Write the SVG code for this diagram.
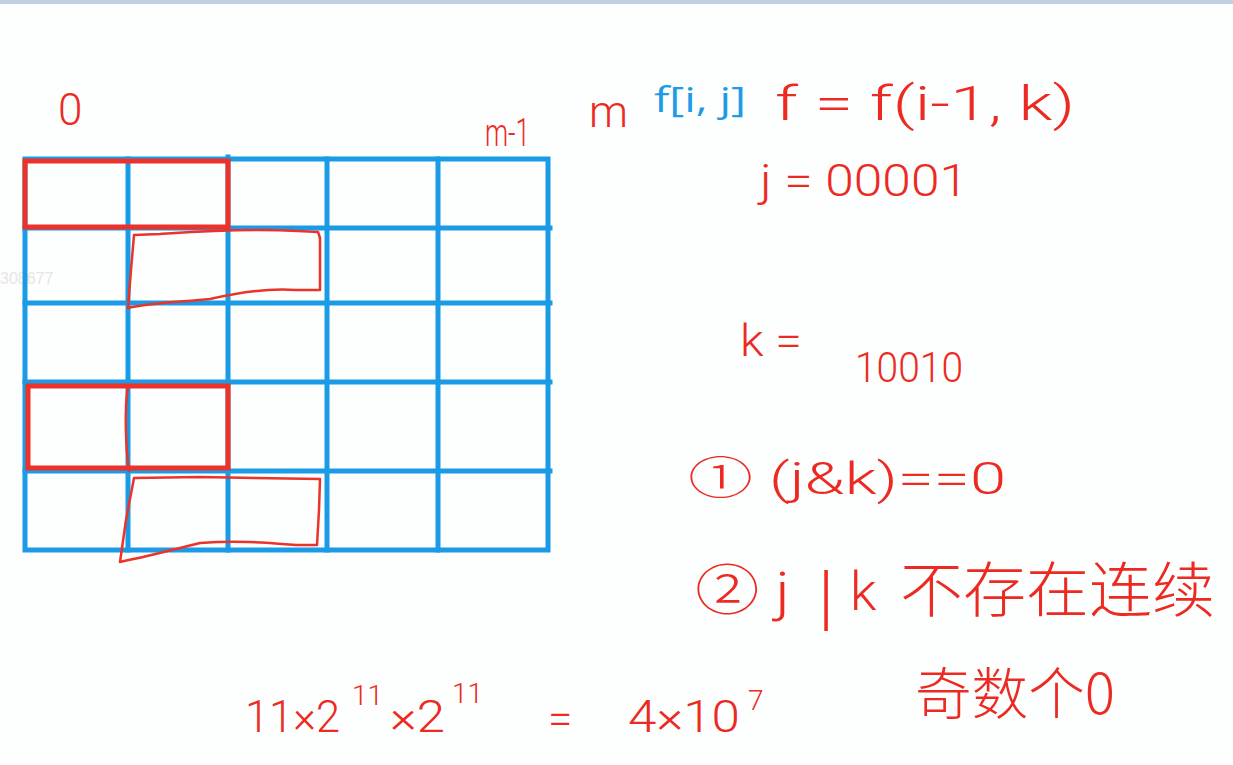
<svg xmlns="http://www.w3.org/2000/svg" width="1233" height="765" viewBox="0 0 1233 765">
<style>
.grid{stroke:#1b9be6;stroke-width:5;fill:none;stroke-linecap:square}
.box{stroke:#ec3229;stroke-width:5;fill:none}
.free{stroke:#ec3229;stroke-width:2.5;fill:none;stroke-linejoin:round}
.hw{fill:#ec2a22;font-family:Roboto,"Liberation Sans","Noto Sans CJK SC",sans-serif;font-weight:300}
.cjk{fill:#ec2a22;font-family:"Noto Sans CJK SC",sans-serif;font-weight:300}
.blue{fill:#1e9be5;font-family:"Open Sans","Liberation Sans",sans-serif}
</style>
<rect width="1233" height="765" fill="#fdfefe"/>
<rect width="1233" height="4" fill="#c2cfe0"/>
<text x="0" y="284" font-family="Liberation Sans,sans-serif" font-size="16" fill="#e6e6e6">308677</text>
<g id="grid" class="grid">
<rect x="25" y="159" width="523" height="391"/>
<line x1="128" y1="159" x2="128" y2="550"/>
<line x1="228" y1="157" x2="228" y2="550"/>
<line x1="327" y1="159" x2="327" y2="550"/>
<line x1="438" y1="159" x2="438" y2="550"/>
<line x1="25" y1="228" x2="550" y2="228"/>
<line x1="25" y1="303" x2="550" y2="303"/>
<line x1="25" y1="382" x2="550" y2="382"/>
<line x1="25" y1="471" x2="550" y2="471"/>
</g>
<g id="highlights">
<rect class="box" x="25" y="161" width="203" height="66"/>
<rect class="box" x="28" y="386" width="200" height="82"/>
<path class="free" d="M134,235 L160,234 C190,232 240,228 298,231 L318,232 L320,238 L320,290 L296,290 C270,288 240,292 210,299 C180,302 150,303 128,308 L131,270 Z"/>
<path class="free" d="M128,386 C124,410 126,450 129,472"/>
<path class="free" d="M134,478 L200,477 L320,479 L319,510 L317,545 L296,545 C270,543 240,540 200,543 C180,548 150,556 120,562 L126,520 Z"/>
</g>
<g id="labels">
<text class="hw" x="58" y="125" font-size="44">0</text>
<text class="hw" x="485" y="146" font-size="38" textLength="45" lengthAdjust="spacingAndGlyphs">m-1</text>
<text class="hw" x="589" y="127" font-size="44">m</text>
<text class="blue" x="654" y="112" font-size="34" textLength="92" lengthAdjust="spacingAndGlyphs">f[i, j]</text>
<text class="hw" x="775" y="120" font-size="48" textLength="300" lengthAdjust="spacingAndGlyphs">f = f(i-1, k)</text>
<text class="hw" x="760" y="196" font-size="44" textLength="208" lengthAdjust="spacingAndGlyphs">j = 00001</text>
<text class="hw" x="740" y="356" font-size="44" textLength="62" lengthAdjust="spacingAndGlyphs">k =</text>
<text class="hw" x="855" y="382" font-size="42" textLength="108" lengthAdjust="spacingAndGlyphs">10010</text>
<text class="hw" x="688" y="494" font-size="44" textLength="318" lengthAdjust="spacingAndGlyphs">① (j&amp;k)==0</text>
<text class="hw" x="695" y="610" font-size="54" textLength="95" lengthAdjust="spacingAndGlyphs">② j</text>
<text class="hw" x="818" y="622" font-size="72" font-weight="100">|</text>
<text class="hw" x="850" y="610" font-size="54">k</text>
<text class="cjk" x="900" y="612" font-size="60" textLength="315" lengthAdjust="spacingAndGlyphs">不存在连续</text>
<text class="cjk" x="915" y="714" font-size="56" textLength="200" lengthAdjust="spacingAndGlyphs">奇数个0</text>
<text class="hw" x="245" y="732" font-size="44" textLength="95" lengthAdjust="spacingAndGlyphs">11×2</text>
<text class="hw" x="352" y="705" font-size="28">11</text>
<text class="hw" x="390" y="732" font-size="44" textLength="55" lengthAdjust="spacingAndGlyphs">×2</text>
<text class="hw" x="452" y="703" font-size="28">11</text>
<text class="hw" x="548" y="734" font-size="44">=</text>
<text class="hw" x="628" y="732" font-size="44" textLength="112" lengthAdjust="spacingAndGlyphs">4×10</text>
<text class="hw" x="748" y="710" font-size="28">7</text>
</g>
</svg>
